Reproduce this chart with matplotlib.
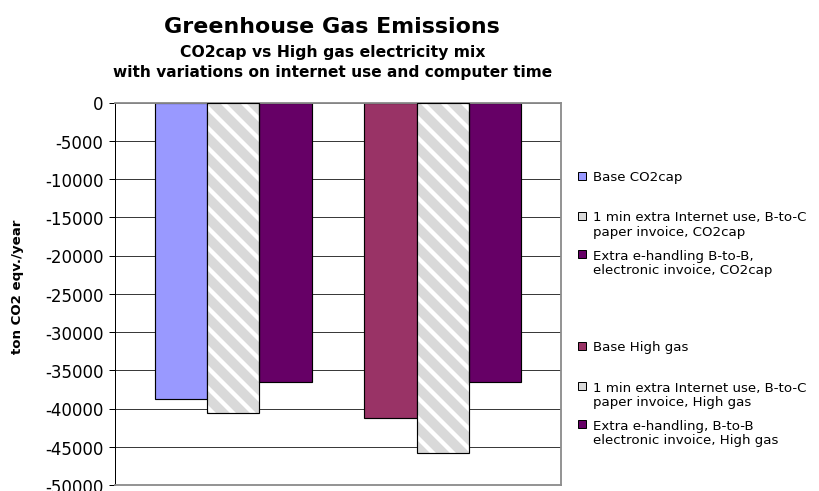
import matplotlib
matplotlib.use("Agg")
import matplotlib.pyplot as plt
from matplotlib.patches import Rectangle

plt.rcParams["font.family"] = ["DejaVu Sans"]
plt.rcParams["axes.unicode_minus"] = False
plt.rcParams["hatch.linewidth"] = 2.6

# Emissions per scenario (ton CO2 eqv./year)
series_labels = [
    "Base CO2cap",
    "1 min extra Internet use, B-to-C\npaper invoice, CO2cap",
    "Extra e-handling B-to-B,\nelectronic invoice, CO2cap",
    "Base High gas",
    "1 min extra Internet use, B-to-C\npaper invoice, High gas",
    "Extra e-handling, B-to-B\nelectronic invoice, High gas",
]
values = [-38800, -40600, -36600, -41200, -45800, -36500]
face_colors = ["#9999FF", "#D9D9D9", "#660066", "#993366", "#D9D9D9", "#660066"]
hatches = [None, "\\\\", None, None, "\\\\", None]
y_ticks = list(range(0, -50001, -5000))

W, H, DPI = 819, 492, 120
fig = plt.figure(figsize=(W / DPI, H / DPI), dpi=DPI)


def fx(px):
    return px / W


def fy(py):
    return 1 - py / H


ax = fig.add_axes([fx(115), fy(486), fx(561) - fx(115), fy(103.5) - fy(486)])

# three CO2cap bars, an empty slot, then three High gas bars
positions = [i + (i >= 3) for i in range(len(values))]
for x, v, fc, h in zip(positions, values, face_colors, hatches):
    if h:
        ax.bar(x, v, width=1.0, color=fc, edgecolor="white", hatch=h,
               linewidth=0, zorder=2)
        ax.bar(x, v, width=1.0, fill=False, edgecolor="black",
               linewidth=0.7, zorder=3)
    else:
        ax.bar(x, v, width=1.0, color=fc, edgecolor="black",
               linewidth=0.7, zorder=2)

ax.set_xlim(-1.26, 7.26)
ax.set_ylim(-50000, 0)
ax.set_yticks(y_ticks)
ax.set_yticklabels([str(t) for t in y_ticks], fontsize=10.0)
ax.set_xticks([])
ax.tick_params(axis="y", direction="out", length=3.5, width=0.6, color="black", pad=3.5)
ax.yaxis.grid(True, color="#3a3a3a", linewidth=0.6)
ax.set_axisbelow(True)
ax.spines["left"].set_color("black")
ax.spines["left"].set_linewidth(0.6)
for s in ("top", "right", "bottom"):
    ax.spines[s].set_color("#8c8c8c")
    ax.spines[s].set_linewidth(1.1)

# titles
fig.text(fx(332), fy(33), "Greenhouse Gas Emissions", ha="center", va="baseline",
         fontsize=13.3, fontweight="bold")
fig.text(fx(333), fy(57), "CO2cap vs High gas electricity mix", ha="center",
         va="baseline", fontsize=9.4, fontweight="bold")
fig.text(fx(333), fy(77), "with variations on internet use and computer time",
         ha="center", va="baseline", fontsize=9.2, fontweight="bold")

fig.text(fx(18), fy(287), "ton CO2 eqv./year", rotation=90, ha="center",
         va="center", fontsize=8.0, fontweight="bold")

# legend
legend_y = [177, 225, 263.5, 347, 395.5, 433.5]
for label, fc, ly in zip(series_labels, face_colors, legend_y):
    lines = label.split("\n")
    first_y = ly - (len(lines) - 1) * 8.5
    fig.patches.append(Rectangle((fx(577.5), fy(first_y + 4)), fx(8), fy(0) - fy(8),
                                 transform=fig.transFigure, facecolor=fc,
                                 edgecolor="black", linewidth=0.6))
    fig.text(fx(593), fy(ly), label, ha="left", va="center", fontsize=8.0,
             linespacing=1.15)

fig.savefig("out.png", dpi=DPI)
